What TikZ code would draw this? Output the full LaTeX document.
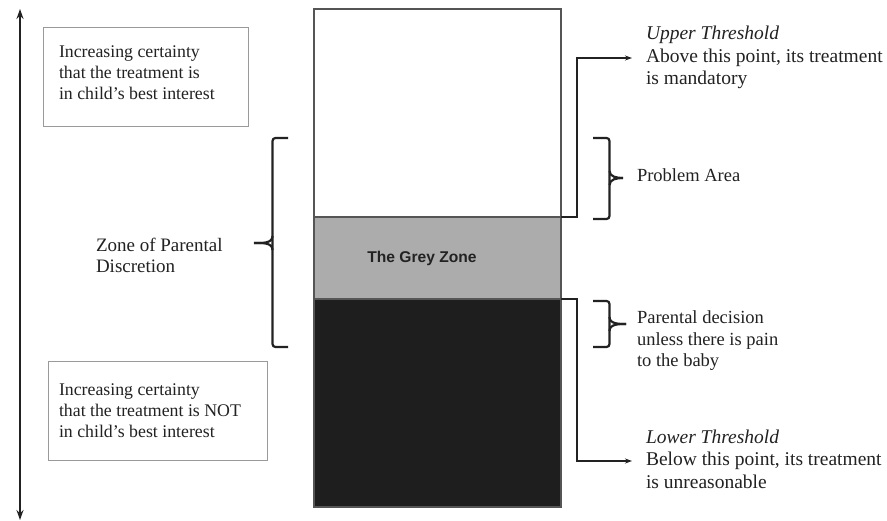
\documentclass[tikz,border=0pt]{standalone}
\usepackage{fontspec}
\setmainfont{Liberation Serif}
\newfontfamily\greyfont{Liberation Sans}
\usetikzlibrary{arrows.meta}
\definecolor{greyzone}{HTML}{ACACAC}
\definecolor{blackzone}{HTML}{1E1E1E}
\definecolor{edge}{HTML}{555555}
\definecolor{boxedge}{HTML}{9A9A9A}
\definecolor{ink}{HTML}{222222}
\tikzset{
  txt/.style={inner sep=0pt, outer sep=0pt, anchor=west, align=left, text=ink,
    font=\fontsize{18.5}{21.5}\selectfont},
  boxtxt/.style={txt, font=\fontsize{17.8}{20.7}\selectfont},
  bigtxt/.style={txt, font=\fontsize{19.5}{22.5}\selectfont},
  band/.style={draw=edge, line width=1.2pt, inner sep=0pt, outer sep=0pt,
    minimum width=247pt},
  infobox/.style={draw=boxedge, line width=1pt, inner sep=0pt, outer sep=0pt},
  conn/.style={draw=ink, line width=1.1pt, -{Stealth[length=7pt,width=5pt]}},
  bracepath/.style={draw=ink, line width=2.2pt, rounded corners=3pt},
  axis/.style={draw=ink, line width=2.4pt, {Stealth[length=10pt,width=7pt]}-{Stealth[length=10pt,width=7pt]}}
}
\begin{document}
\begin{tikzpicture}[x=1pt,y=-1pt]
\useasboundingbox (0,0) rectangle (887,521);
\fill[white] (0,0) rectangle (887,521);

% main column
\node[band, fill=white, minimum height=208pt] (white) at (437.5,113) {};
\node[band, fill=greyzone, minimum height=82pt] (grey) at (437.5,258) {};
\node[band, fill=blackzone, minimum height=208pt] (black) at (437.5,403) {};
\node[inner sep=0pt, text=ink, font=\greyfont\bfseries\fontsize{15.6}{18}\selectfont] (greylabel) at (422,258) {The Grey Zone};

% vertical axis
\coordinate (axTop) at (20,9);
\coordinate (axBot) at (20,520);
\draw[axis] (axTop) -- (axBot);

% info boxes
\node[infobox, minimum width=205pt, minimum height=99pt] (topbox) at (145.5,77.5) {};
\node[boxtxt] (toptext) at (59,72.5) {Increasing certainty\\that the treatment is\\in child’s best interest};
\node[infobox, minimum width=219pt, minimum height=99pt] (botbox) at (157.5,411.5) {};
\node[boxtxt] (bottext) at (59,410.5) {Increasing certainty\\that the treatment is NOT\\in child’s best interest};

% zone of parental discretion
\node[txt, font=\fontsize{19}{21.5}\selectfont] (zonetext) at (96,255.5) {Zone of Parental\\Discretion};
\draw[bracepath] (288,138) -- (272.5,138) -- (272.5,347) -- (288,347);
\draw[draw=ink, line width=2.2pt] (272.5,236) to[out=-90,in=0] (254,243);
\draw[draw=ink, line width=2.2pt] (272.5,250) to[out=90,in=0] (254,243);

% upper threshold
\node[bigtxt] (uppertext) at (646,57.5) {\textit{Upper Threshold}\\Above this point, its treatment\\is mandatory};
\coordinate (upArr) at (632,58);
\draw[conn] (white.south east) -- ++(16,0) |- (upArr);

% problem area
\draw[bracepath] (593,138) -- (609.5,138) -- (609.5,219) -- (593,219);
\draw[draw=ink, line width=2.2pt] (609.5,171) to[out=-90,in=180] (623,178);
\draw[draw=ink, line width=2.2pt] (609.5,185) to[out=90,in=180] (623,178);
\node[txt] (problemtext) at (637,175) {Problem Area};

% parental decision
\draw[bracepath] (593,301) -- (609.5,301) -- (609.5,347) -- (593,347);
\draw[draw=ink, line width=2.2pt] (609.5,317) to[out=-90,in=180] (626,324);
\draw[draw=ink, line width=2.2pt] (609.5,331) to[out=90,in=180] (626,324);
\node[txt] (parentaltext) at (637,341) {Parental decision\\unless there is pain\\to the baby};

% lower threshold
\node[bigtxt] (lowertext) at (646,459) {\textit{Lower Threshold}\\Below this point, its treatment\\is unreasonable};
\coordinate (lowArr) at (632,461);
\draw[conn] (black.north east) -- ++(16,0) |- (lowArr);
\end{tikzpicture}
\end{document}
